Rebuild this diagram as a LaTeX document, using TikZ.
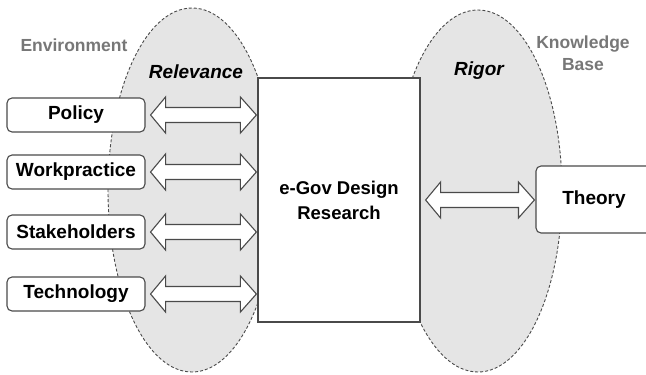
\documentclass[tikz,border=0pt]{standalone}
\usepackage{fontspec}
\setmainfont{Liberation Sans}
\usetikzlibrary{calc}
\definecolor{ellfill}{HTML}{E5E5E5}
\definecolor{edge}{HTML}{4A4A4A}
\definecolor{labgray}{HTML}{777777}
\tikzset{
  zone/.style={fill=ellfill, draw=edge, line width=0.9pt, dash pattern=on 3pt off 2pt},
  sidebox/.style={draw=edge, fill=white, line width=1.1pt, rounded corners=5pt,
    minimum width=138pt, minimum height=34pt, inner sep=0pt,
    font=\fontsize{19}{22}\selectfont\bfseries},
  mainbox/.style={draw=edge, fill=white, line width=1.2pt,
    minimum width=162pt, minimum height=244pt, inner sep=0pt, align=center,
    font=\fontsize{18.5}{25}\selectfont\bfseries},
  graylab/.style={text=labgray, align=center, inner sep=0pt,
    font=\fontsize{17.5}{22}\selectfont\bfseries},
  zonelab/.style={inner sep=0pt, font=\fontsize{19}{22}\selectfont\bfseries\itshape},
  barrow/.style={draw=edge, fill=white, line width=1.1pt, line join=miter},
}
\newcommand\blockarr[2]{%
  \path ($(#1.east)+(5,0)$) coordinate (pA)
        ($(#2.west |- #1.east)+(-1,0)$) coordinate (pB);
  \draw[barrow] (pA) -- ++(15,-18) -- ++(0,10.5) -- ($(pB)+(-16,-7.5)$) -- ++(0,-10.5)
    -- (pB) -- ++(-16,18) -- ++(0,-10.5) -- ($(pA)+(15,7.5)$) -- ++(0,10.5) -- cycle;}
\begin{document}
\begin{tikzpicture}[x=1pt,y=-1pt]
\useasboundingbox (0,0) rectangle (646,375);
% zones
\draw[zone] (192,190) ellipse [x radius=84, y radius=182];
\draw[zone] (478,191) ellipse [x radius=84, y radius=181];
% labels
\node[graylab] (env) at (74,45) {Environment};
\node[graylab] (kb) at (583,53) {Knowledge\\Base};
\node[zonelab] (rel) at (196,72) {Relevance};
\node[zonelab] (rig) at (479,71) {Rigor};
% boxes
\node[mainbox] (main) at (339,200) {e-Gov Design\\Research};
\node[sidebox] (policy) at (76,115) {Policy};
\node[sidebox] (work) at (76,172) {Workpractice};
\node[sidebox] (stake) at (76,232) {Stakeholders};
\node[sidebox] (tech) at (76,294) {Technology};
\node[sidebox, minimum width=116pt, minimum height=67pt] (theory) at (594,199.5) {Theory};
% arrows
\blockarr{policy}{main}
\blockarr{work}{main}
\blockarr{stake}{main}
\blockarr{tech}{main}
\blockarr{main}{theory}
\end{tikzpicture}
\end{document}
